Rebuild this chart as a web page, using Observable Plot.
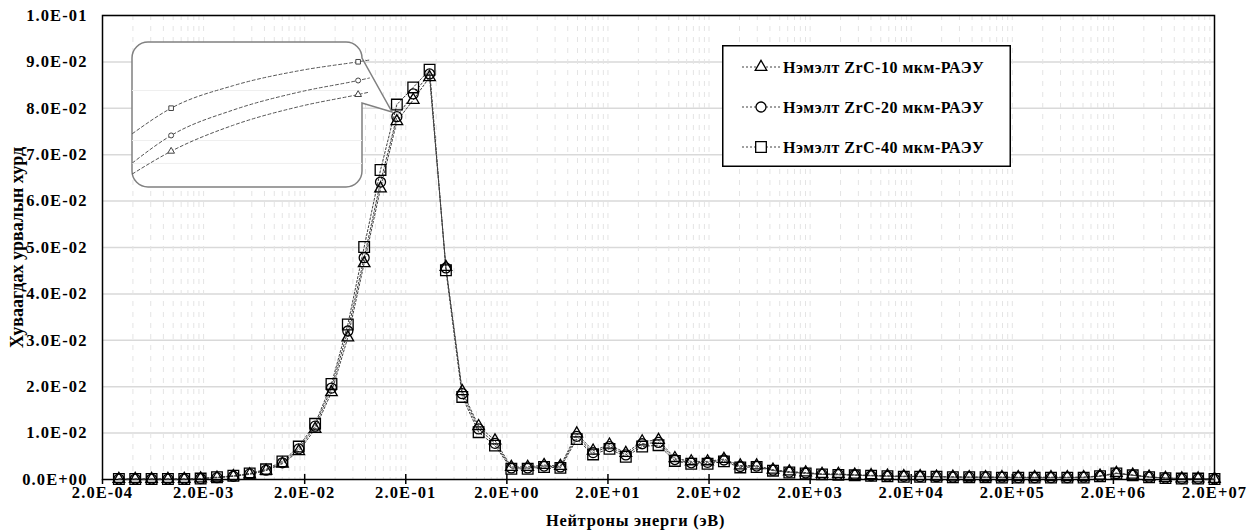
<!DOCTYPE html>
<html>
<head>
<meta charset="utf-8">
<script src="https://cdn.jsdelivr.net/npm/d3@7"></script>
<script src="https://cdn.jsdelivr.net/npm/@observablehq/plot@0.6"></script>
<style>
  html, body { margin: 0; padding: 0; background: white; }
  #wrap { position: relative; width: 1253px; height: 531px; font-family: "Liberation Serif", "Times New Roman", serif; }
  #wrap > * { position: absolute; }
</style>
</head>
<body>
<div id="wrap"></div>
<script>
// ---- data ----
const energy = [
  2.904e-4, 4.215e-4, 6.117e-4, 8.878e-4, 1.288e-3, 1.870e-3, 2.714e-3, 3.939e-3, 5.717e-3, 8.297e-3,
  1.204e-2, 1.748e-2, 2.536e-2, 3.681e-2, 5.343e-2, 7.753e-2, 1.125e-1, 1.633e-1, 2.370e-1, 3.440e-1,
  4.992e-1, 7.244e-1, 1.051, 1.526, 2.215, 3.214, 4.666, 6.770, 9.825, 14.26,
  20.70, 30.04, 43.60, 63.28, 91.83, 133.3, 193.4, 280.7, 407.4, 591.2,
  858.1, 1245, 1807, 2623, 3806, 5525, 8018, 11636, 16888, 24510,
  35570, 51630, 74920, 108740, 157800, 229000, 332400, 482500, 700200, 1.016e6,
  1.475e6, 2.140e6, 3.106e6, 4.508e6, 6.543e6, 9.497e6, 1.378e7, 2.000e7
];
const zrc10 = [
  0.0001, 0.0001, 0.0001, 0.0001, 0.0001, 0.0002, 0.0004, 0.0007, 0.0011, 0.0019,
  0.0034, 0.0061, 0.0109, 0.0188, 0.0306, 0.0466, 0.0627, 0.0772, 0.0818, 0.0867,
  0.0458, 0.0190, 0.0115, 0.0084, 0.0027, 0.0027, 0.0031, 0.0029, 0.0099, 0.0062,
  0.0075, 0.0057, 0.0082, 0.0085, 0.0046, 0.0039, 0.0039, 0.0044, 0.0030, 0.0030,
  0.0021, 0.0017, 0.0015, 0.0012, 0.0012, 0.0010, 0.0009, 0.0008, 0.0007, 0.0007,
  0.0006, 0.0006, 0.0005, 0.0005, 0.0005, 0.0005, 0.0005, 0.0005, 0.0005, 0.0005,
  0.0008, 0.0014, 0.0010, 0.0006, 0.0003, 0.0002, 0.0002, 0.0001
];
const zrc20 = [
  0.0001, 0.0001, 0.0001, 0.0001, 0.0001, 0.0002, 0.0004, 0.0007, 0.0012, 0.0020,
  0.0036, 0.0066, 0.0115, 0.0197, 0.0320, 0.0478, 0.0641, 0.0782, 0.0831, 0.0874,
  0.0456, 0.0185, 0.0109, 0.0078, 0.0025, 0.0025, 0.0029, 0.0027, 0.0093, 0.0058,
  0.0071, 0.0053, 0.0077, 0.0080, 0.0043, 0.0036, 0.0037, 0.0042, 0.0028, 0.0029,
  0.0020, 0.0016, 0.0014, 0.0011, 0.0011, 0.0010, 0.0008, 0.0007, 0.0007, 0.0006,
  0.0006, 0.0005, 0.0005, 0.0005, 0.0005, 0.0004, 0.0004, 0.0004, 0.0004, 0.0005,
  0.0007, 0.0013, 0.0009, 0.0005, 0.0003, 0.0002, 0.0002, 0.0001
];
const zrc40 = [
  0.0001, 0.0001, 0.0001, 0.0001, 0.0001, 0.0002, 0.0005, 0.0008, 0.0013, 0.0022,
  0.0039, 0.0071, 0.0120, 0.0206, 0.0334, 0.0501, 0.0667, 0.0808, 0.0845, 0.0883,
  0.0451, 0.0178, 0.0102, 0.0073, 0.0023, 0.0023, 0.0027, 0.0025, 0.0087, 0.0054,
  0.0066, 0.0049, 0.0071, 0.0074, 0.0040, 0.0034, 0.0034, 0.0039, 0.0026, 0.0027,
  0.0019, 0.0015, 0.0013, 0.0011, 0.0010, 0.0009, 0.0008, 0.0007, 0.0006, 0.0006,
  0.0006, 0.0005, 0.0005, 0.0005, 0.0004, 0.0004, 0.0004, 0.0004, 0.0004, 0.0004,
  0.0007, 0.0013, 0.0009, 0.0005, 0.0003, 0.0002, 0.0002, 0.0001
];
const seriesNames = ["Нэмэлт ZrC-10 мкм-РАЭУ", "Нэмэлт ZrC-20 мкм-РАЭУ", "Нэмэлт ZrC-40 мкм-РАЭУ"];
const seriesSymbols = ["triangle", "circle", "square"];
const xTicks = [2e-4, 2e-3, 2e-2, 2e-1, 2e0, 2e1, 2e2, 2e3, 2e4, 2e5, 2e6, 2e7];
const yTicks = [0, 0.01, 0.02, 0.03, 0.04, 0.05, 0.06, 0.07, 0.08, 0.09, 0.1];
const xTitle = "Нейтроны энерги (эВ)";
const yTitle = "Хуваагдах урвалын хурд";

// magnified view shown in the callout (inset units 0..100)
const insetX = [0, 16.8, 43.9, 73, 98.1, 103];
const insetSquare = [37.2, 54.7, 70.3, 80.7, 86.7, 87.9];
const insetCircle = [17.0, 35.9, 53.5, 66.0, 73.8, 75.5];
const insetTriangle = [9.4, 25.0, 43.0, 56.0, 64.1, 65.8];
const insetMarkerIdx = [1, 4];
const insetGrid = [16.6, 32.4, 66.9];

// ---- helpers ----
function fmtE(d) {
  const [m, e] = d.toExponential(1).split("e");
  const sign = e[0] === "-" ? "-" : "+";
  const digits = e.replace(/^[+-]/, "").padStart(2, "0");
  return m + "E" + sign + digits;
}
const minorX = [];
for (const t of xTicks.slice(0, -1)) for (const k of [2, 3, 4, 5, 6, 7, 8, 9, 10]) minorX.push(t * k);

const seriesValues = [zrc10, zrc20, zrc40];
const rows = seriesValues.map(vals => energy.map((e, i) => ({e, v: vals[i]})));
const dotR = {triangle: 4.3, circle: 5, square: 6};
const SERIF = "'Liberation Serif', 'Times New Roman', serif";

const wrap = document.getElementById("wrap");

const chart = Plot.plot({
  width: 1253, height: 531,
  marginLeft: 102, marginRight: 39, marginTop: 15, marginBottom: 52,
  style: {fontFamily: SERIF, fontWeight: "bold", fontSize: "16px", color: "black", background: "white"},
  x: {type: "log", domain: [2e-4, 2e7]},
  y: {domain: [0, 0.1]},
  marks: [
    Plot.ruleY(yTicks.slice(1), {stroke: "#d9d9d9", strokeWidth: 1.5}),
    Plot.ruleX(minorX, {stroke: "#e4e4e4", strokeDasharray: "5,6", strokeWidth: 1}),
    Plot.frame({stroke: "black", strokeWidth: 1.5}),
    Plot.ruleX(xTicks.slice(1, -1), {y1: 0, y2: 0.0011, stroke: "black", strokeWidth: 1.5}),
    Plot.axisX({ticks: xTicks, tickFormat: fmtE, tickSize: 5, tickPadding: 2, strokeWidth: 1.5,
      label: xTitle, labelAnchor: "center", labelOffset: 46, labelArrow: "none"}),
    Plot.axisY({ticks: yTicks, tickFormat: fmtE, tickSize: 0, tickPadding: 15,
      label: yTitle, labelAnchor: "center", labelOffset: 92, labelArrow: "none"}),
    ...rows.map(r => Plot.line(r, {x: "e", y: "v", stroke: "#404040", strokeWidth: 1, strokeDasharray: "2,2"})),
    ...rows.map((r, i) => Plot.dot(r, {x: "e", y: "v", symbol: () => seriesSymbols[i], r: dotR[seriesSymbols[i]],
      stroke: "black", strokeWidth: 1.3, fill: "none"}))
  ]
});
// text sizing / placement to match the reference
const sel = d3.select(chart);
sel.selectAll('[aria-label="x-axis tick label"], [aria-label="y-axis tick label"]')
  .style("font-size", "16.5px").style("letter-spacing", "1.1px");
sel.selectAll('[aria-label="x-axis label"]').style("font-size", "16.4px").style("letter-spacing", "0.75px");
sel.selectAll('[aria-label="x-axis label"] text').attr("dx", -23);
sel.selectAll('[aria-label="y-axis label"]').style("font-size", "18px");
chart.style.left = "0px"; chart.style.top = "0px";
wrap.appendChild(chart);

// ---- callout with magnified view ----
const insetRows = [insetTriangle, insetCircle, insetSquare].map(vals => insetX.map((x, i) => ({x, v: vals[i]})));
const inset = Plot.plot({
  width: 270, height: 150, margin: 0,
  style: {background: "transparent", overflow: "visible"},
  x: {domain: [0, 100], range: [2, 232], axis: null},
  y: {domain: [0, 100], range: [147, 2], axis: null},
  marks: [
    Plot.ruleY(insetGrid, {x1: 0, x2: 100, stroke: "#efefef", strokeWidth: 1}),
    ...insetRows.map(r => Plot.line(r, {x: "x", y: "v", curve: "monotone-x", stroke: "#555", strokeWidth: 1, strokeDasharray: "3,2.5"})),
    ...insetRows.map((r, i) => Plot.dot(insetMarkerIdx.map(j => r[j]), {x: "x", y: "v",
      symbol: () => seriesSymbols[i], r: seriesSymbols[i] === "square" ? 2.6 : 2.5, stroke: "#444", strokeWidth: 1, fill: "white"}))
  ]
});
d3.select(inset).insert("path", ":first-child")
  .attr("d", "M18,2 H216 A16,16 0 0 1 232,18 L262,72 L232,63 V131 A16,16 0 0 1 216,147 H18 A16,16 0 0 1 2,131 V18 A16,16 0 0 1 18,2 Z")
  .attr("fill", "white").attr("stroke", "#808080").attr("stroke-width", 1.5);
inset.style.left = "130px"; inset.style.top = "40px";
wrap.appendChild(inset);

// ---- legend ----
const legendW = 289, legendH = 122;
const leg = d3.create("svg").attr("width", legendW).attr("height", legendH)
  .style("left", "722px").style("top", "45px").style("overflow", "visible");
leg.append("rect").attr("x", 0.75).attr("y", 0.75).attr("width", legendW - 1.5).attr("height", legendH - 1.5)
  .attr("fill", "white").attr("stroke", "black").attr("stroke-width", 1.5);
const symGen = {triangle: d3.symbolTriangle, circle: d3.symbolCircle, square: d3.symbolSquare};
seriesNames.forEach((name, i) => {
  const cy = 22 + i * 40;
  const g = leg.append("g").attr("transform", `translate(0,${cy})`);
  g.append("line").attr("x1", 20).attr("x2", 58).attr("y1", 0).attr("y2", 0)
    .attr("stroke", "#404040").attr("stroke-width", 1).attr("stroke-dasharray", "2,2");
  const s = seriesSymbols[i];
  const r = dotR[s];
  g.append("path").attr("transform", "translate(39,0)")
    .attr("d", d3.symbol(symGen[s], Math.PI * r * r)())
    .attr("fill", "white").attr("stroke", "black").attr("stroke-width", 1.3);
  g.append("text").attr("x", 61).attr("y", 0).attr("dy", "0.35em")
    .attr("font-family", SERIF).attr("font-weight", "bold")
    .style("font-size", "16px").style("letter-spacing", "0.5px").attr("fill", "black").text(name);
});
wrap.appendChild(leg.node());
</script>
</body>
</html>
